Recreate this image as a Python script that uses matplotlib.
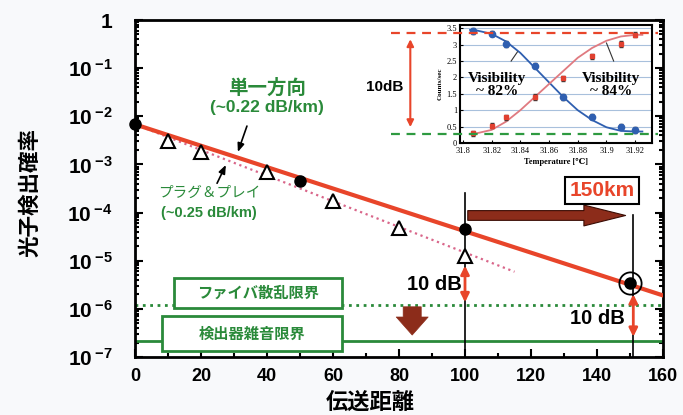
import matplotlib.pyplot as plt
import numpy as np
from matplotlib.patches import Rectangle
from matplotlib.ticker import MultipleLocator, LogLocator, NullFormatter

plt.rcParams['mathtext.fontset'] = 'custom'
plt.rcParams['mathtext.bf'] = 'Liberation Sans:bold'
plt.rcParams['mathtext.rm'] = 'Liberation Sans:bold'

JP = ['Noto Sans CJK JP', 'DejaVu Sans']
NUM = 'Liberation Sans'
SERIF = ['Liberation Serif', 'DejaVu Serif', 'Noto Sans CJK JP']

RED = '#e8452a'
GREEN = '#2a8a3a'
BROWN = '#8c2c1a'
BLUE = '#2f5fb0'

# main data
dist_dot = [0, 50, 100, 150]
prob_dot = [6.8e-3, 4.6e-4, 4.5e-5, 3.5e-6]
dist_tri = [10, 20, 40, 60, 80, 100]
prob_tri = [3.0e-3, 1.8e-3, 6.8e-4, 1.7e-4, 4.7e-5, 1.26e-5]
oneway_x = [0, 160]
oneway_y = [6.8e-3, 1.9e-6]
plug_x = [0, 115]
plug_y = [6.8e-3, 5.9e-6]
fiber_limit = 1.2e-6
detector_limit = 2.2e-7

# inset data
temp_pts = [31.807, 31.82, 31.83, 31.85, 31.87, 31.89, 31.91, 31.92]
counts_blue = [3.42, 3.33, 3.02, 2.36, 1.40, 0.80, 0.50, 0.40]
counts_red = [0.30, 0.53, 0.78, 1.40, 1.97, 2.65, 3.02, 3.30]
temp_fit = [31.805, 31.81, 31.82, 31.83, 31.84, 31.85, 31.86, 31.87, 31.88, 31.89, 31.90, 31.91, 31.92, 31.925]
fit_blue = [3.45, 3.43, 3.33, 3.10, 2.75, 2.30, 1.85, 1.40, 1.00, 0.70, 0.48, 0.37, 0.35, 0.35]
fit_red = [0.28, 0.30, 0.40, 0.65, 1.00, 1.40, 1.80, 2.20, 2.60, 2.90, 3.12, 3.25, 3.30, 3.30]

fig = plt.figure(figsize=(6.83, 4.15), dpi=100, facecolor='#f8f9fb')
ax = fig.add_axes([135/683, 58/415, 528/683, 337/415])
ax.set_yscale('log')
ax.set_xlim(0, 160)
ax.set_ylim(1e-7, 1)

# lines and markers
ax.plot(plug_x, plug_y, ':', color='#d9668a', lw=1.6, zorder=3)
ax.plot(oneway_x, oneway_y, '-', color=RED, lw=3, zorder=4)
ax.plot(dist_tri, prob_tri, '^', ms=10, mfc='white', mec='black', mew=1.5, zorder=5, clip_on=False)
ax.plot(dist_dot, prob_dot, 'o', ms=8, color='black', zorder=6, clip_on=False)
ax.plot([150], [3.5e-6], 'o', ms=16, mfc='none', mec='black', mew=1.3, zorder=6)

ax.axhline(fiber_limit, color=GREEN, ls=':', lw=2, zorder=2)
ax.axhline(detector_limit, color=GREEN, ls='-', lw=2, zorder=2)

# vertical markers
ax.plot([100, 100], [2.6e-4, 1e-7], color='black', lw=1.2, zorder=3)
ax.plot([151, 151], [8.7e-5, 1e-7], color='black', lw=1.2, zorder=3)

# arrows
ax.annotate('', xy=(149.5, 8.7e-5), xytext=(100, 8.7e-5),
            arrowprops=dict(arrowstyle='simple,tail_width=0.7,head_width=1.5,head_length=3.0',
                            fc=BROWN, ec='#3a0c04', lw=0.8, mutation_scale=10), zorder=7)
ax.annotate('', xy=(84, 2.5e-7), xytext=(84, 1.26e-6),
            arrowprops=dict(arrowstyle='simple,tail_width=1.3,head_width=2.3,head_length=1.3',
                            fc=BROWN, ec=BROWN, lw=0.5, mutation_scale=10), zorder=7)
ax.annotate('', xy=(100, 1.2e-6), xytext=(100, 9e-6),
            arrowprops=dict(arrowstyle='<|-|>,head_length=0.5,head_width=0.25',
                            color=RED, lw=2, mutation_scale=10), zorder=7)
ax.annotate('', xy=(151, 2.3e-7), xytext=(151, 2.3e-6),
            arrowprops=dict(arrowstyle='<|-|>,head_length=0.5,head_width=0.25',
                            color=RED, lw=2, mutation_scale=10), zorder=7)

ax.text(99, 3.2e-6, '10 dB', ha='right', va='center', fontsize=14.5, fontweight='bold', family=NUM, zorder=8)
ax.text(140, 6.2e-7, '10 dB', ha='center', va='center', fontsize=14.5, fontweight='bold', family=NUM, zorder=8)
ax.text(141.5, 2.9e-4, '150km', ha='center', va='center', fontsize=15, fontweight='bold', family=NUM,
        color=RED, zorder=8,
        bbox=dict(boxstyle='square,pad=0.2', fc='white', ec='black', lw=1.5))

# labels for the slopes
ax.text(40, 3.8e-2, '単一方向', ha='center', va='center', fontsize=14, fontweight='bold', family=JP, color=GREEN)
ax.text(40, 1.5e-2, '(~0.22 dB/km)', ha='center', va='center', fontsize=12.5, fontweight='bold', family=NUM, color=GREEN)
ax.annotate('', xy=(30.9, 1.6e-3), xytext=(34.2, 7.1e-3),
            arrowprops=dict(arrowstyle='-|>,head_length=0.5,head_width=0.2', color='black', lw=1.2))
ax.text(22.5, 2.6e-4, 'プラグ＆プレイ', ha='center', va='center', fontsize=10.5, family=JP, color=GREEN)
ax.text(22.5, 1.0e-4, '(~0.25 dB/km)', ha='center', va='center', fontsize=10.5, fontweight='bold', family=NUM, color=GREEN)
ax.annotate('', xy=(27.9, 1.1e-3), xytext=(24.5, 3.6e-4),
            arrowprops=dict(arrowstyle='-|>,head_length=0.5,head_width=0.2', color='black', lw=1.2))

# limit boxes
ax.add_patch(Rectangle((11.8, 1.05e-6), 62.7 - 11.8, 4.4e-6 - 1.05e-6, fc='white', ec=GREEN, lw=2, zorder=6))
ax.text(37.3, 2.15e-6, 'ファイバ散乱限界', ha='center', va='center', fontsize=11, fontweight='bold',
        family=JP, color=GREEN, zorder=7)
ax.add_patch(Rectangle((8.2, 1.33e-7), 62.7 - 8.2, 7.1e-7 - 1.33e-7, fc='white', ec=GREEN, lw=2, zorder=6))
ax.text(35.5, 3.1e-7, '検出器雑音限界', ha='center', va='center', fontsize=11, fontweight='bold',
        family=JP, color=GREEN, zorder=7)

# axes styling
ax.set_xticks(range(0, 161, 20))
ax.xaxis.set_minor_locator(MultipleLocator(10))
ax.set_xticklabels([str(v) for v in range(0, 161, 20)], fontsize=13, fontweight='bold', family=NUM)
yt = [1e-7, 1e-6, 1e-5, 1e-4, 1e-3, 1e-2, 1e-1, 1]
ylab = [r'$\mathbf{10\,^{-%d}}$' % k for k in range(7, 0, -1)] + [r'$\mathbf{1}$']
ax.set_yticks(yt)
ax.set_yticklabels(ylab, fontsize=15)
ax.yaxis.set_minor_locator(LogLocator(base=10, subs=np.arange(2, 10)))
ax.yaxis.set_minor_formatter(NullFormatter())
ax.tick_params(which='both', direction='in', right=True, top=False, width=1.5)
ax.tick_params(which='major', length=6)
ax.tick_params(which='minor', length=3)
ax.tick_params(axis='x', pad=8)
ax.tick_params(axis='y', pad=16)
for s in ax.spines.values():
    s.set_linewidth(2)

fig.text(30/683, 1 - 192/415, '光子検出確率', rotation=90, ha='center', va='center',
         fontsize=15.5, fontweight='bold', family=JP)
fig.text(370/683, 1 - 402/415, '伝送距離', ha='center', va='center',
         fontsize=16, fontweight='bold', family=JP)

# inset
ins = fig.add_axes([460/683, 1 - 143/415, 192/683, 118/415])
ins.set_xlim(31.798, 31.9317)
ins.set_ylim(0, 3.6)
for y in np.arange(0.5, 3.51, 0.5):
    ins.axhline(y, color='#a8c0dc', lw=0.8, zorder=0)
ins.plot(temp_fit, fit_blue, '-', color=BLUE, lw=1.3)
ins.plot(temp_fit, fit_red, '-', color='#e07a80', lw=1.3)
ins.errorbar(temp_pts, counts_blue, yerr=0.08, fmt='o', ms=4.5, color=BLUE, ecolor='#333333', elinewidth=0.8, capsize=1.5)
ins.errorbar(temp_pts, counts_red, yerr=0.08, fmt='s', ms=3.5, color='#e04030', ecolor='#333333', elinewidth=0.8, capsize=1.5)

ins.plot([31.7497, 31.936], [3.35, 3.35], '--', color=RED, lw=1.6, dashes=(4, 3), clip_on=False, zorder=5)
ins.plot([31.7497, 31.936], [0.28, 0.28], '--', color='#2e9a40', lw=1.6, dashes=(4, 3), clip_on=False, zorder=5)
ins.annotate('', xy=(31.7634, 0.4), xytext=(31.7634, 3.25), annotation_clip=False,
             arrowprops=dict(arrowstyle='<|-|>,head_length=0.4,head_width=0.2', color=RED, lw=1.5, mutation_scale=10))
ins.text(31.7457, 1.72, '10dB', ha='center', va='center', fontsize=11, fontweight='bold', family=NUM, clip_on=False)

ins.text(31.824, 1.78, 'Visibility\n~ 82%', ha='center', va='center', fontsize=11, fontweight='bold',
         family=SERIF, linespacing=1.0)
ins.text(31.903, 1.78, 'Visibility\n~ 84%', ha='center', va='center', fontsize=11, fontweight='bold',
         family=SERIF, linespacing=1.0)
ins.plot([31.8336, 31.838], [2.5, 2.78], color='#333333', lw=0.8)
ins.plot([31.905, 31.900], [2.5, 3.05], color='#333333', lw=0.8)

ins.set_xticks([31.8, 31.82, 31.84, 31.86, 31.88, 31.9, 31.92])
ins.set_xticklabels(['31.8', '31.82', '31.84', '31.86', '31.88', '31.9', '31.92'], fontsize=6, family=SERIF)
ins.set_yticks(np.arange(0, 3.51, 0.5))
ins.set_yticklabels(['0', '0.5', '1', '1.5', '2', '2.5', '3', '3.5'], fontsize=6, family=SERIF)
ins.tick_params(direction='in', length=2, width=0.8)
ins.tick_params(axis='x', pad=3)
ins.tick_params(axis='y', pad=2)
ins.set_xlabel('Temperature [℃]', fontsize=6, fontweight='bold', family=SERIF, labelpad=2)
ins.set_ylabel('Counts/sec', fontsize=5, fontweight='bold', family=SERIF, labelpad=3)
for s in ins.spines.values():
    s.set_linewidth(1.5)

fig.savefig('out.png', dpi=100, facecolor=fig.get_facecolor())
